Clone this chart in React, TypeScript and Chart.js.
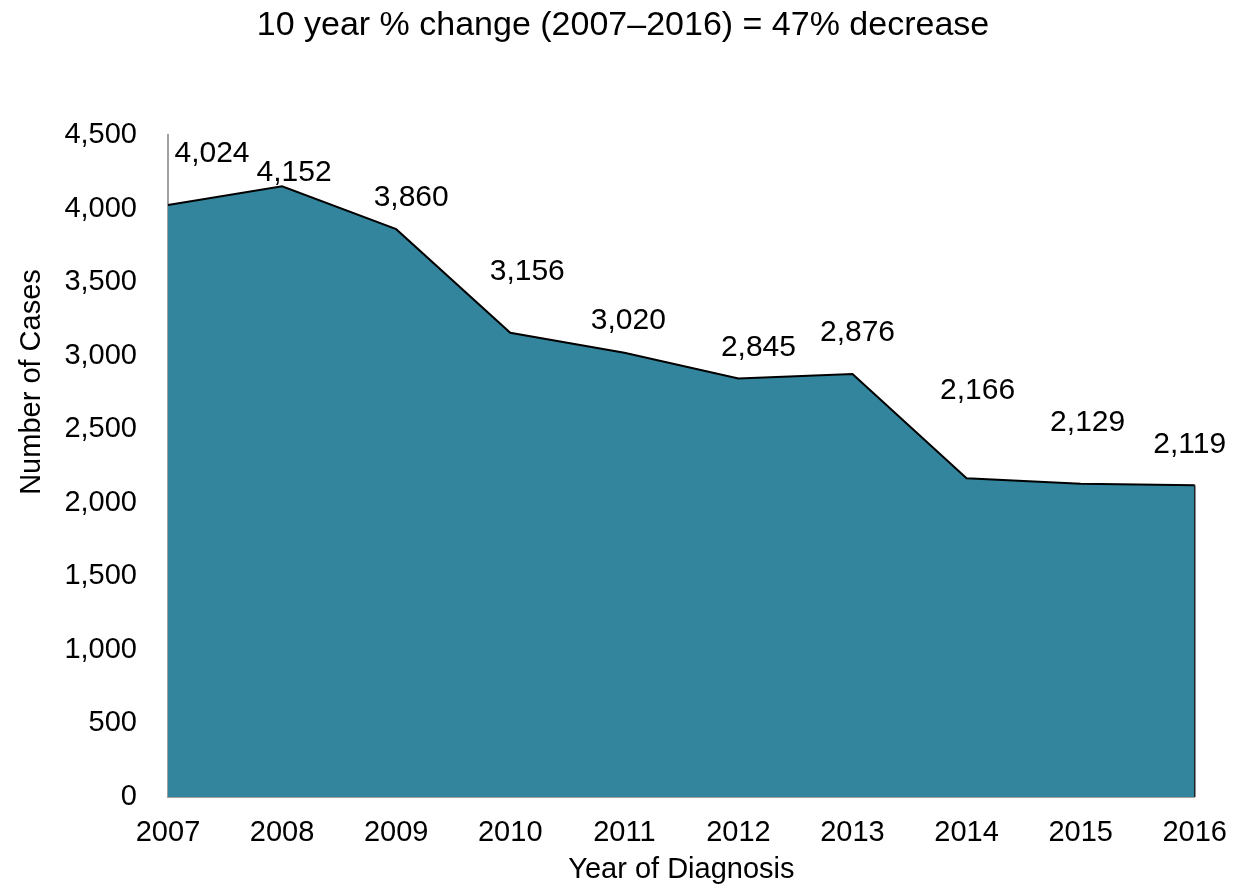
import React, { useEffect, useRef } from "react";
import { Chart, registerables } from "chart.js";

Chart.register(...registerables);

const years = ["2007", "2008", "2009", "2010", "2011", "2012", "2013", "2014", "2015", "2016"];
const cases = [4024, 4152, 3860, 3156, 3020, 2845, 2876, 2166, 2129, 2119];
const yTicks = [0, 500, 1000, 1500, 2000, 2500, 3000, 3500, 4000, 4500];
const chartTitle = "10 year % change (2007\u20132016) = 47% decrease";
const xTitle = "Year of Diagnosis";
const yTitle = "Number of Cases";
// label offsets (style): [dx, dy] of label centre from the point
const labelOffsets: [number, number][] = [
  [44, -51], [12, -13], [15, -31], [17, -61], [4, -32],
  [20, -31], [5, -41], [11, -88], [7, -61], [-5, -41],
];

const FONT = "'Liberation Sans', Arial, Helvetica, sans-serif";
const fmt = (v: number) => v.toLocaleString("en-US");

const textPlugin = {
  id: "customText",
  afterDatasetsDraw(chart: any) {
    const ctx = chart.ctx;
    const meta = chart.getDatasetMeta(0);
    const xs = chart.scales.x;
    const ys = chart.scales.y;
    ctx.save();
    // right edge line of area
    const last = meta.data[meta.data.length - 1];
    ctx.strokeStyle = "#222";
    ctx.lineWidth = 1.5;
    ctx.beginPath();
    ctx.moveTo(last.x, last.y);
    ctx.lineTo(last.x, ys.getPixelForValue(0));
    ctx.stroke();

    // data labels
    ctx.fillStyle = "#000";
    ctx.font = `30px ${FONT}`;
    ctx.textAlign = "center";
    ctx.textBaseline = "middle";
    meta.data.forEach((pt: any, i: number) => {
      const [dx, dy] = labelOffsets[i];
      ctx.fillText(fmt(cases[i]), pt.x + dx, pt.y + dy);
    });

    // title
    ctx.font = `34px ${FONT}`;
    ctx.fillText(chartTitle, chart.width / 2, 26);

    // x title
    ctx.font = `29px ${FONT}`;
    ctx.fillText(xTitle, (xs.left + xs.right) / 2, 870);

    // y title
    ctx.translate(32, 382);
    ctx.rotate(-Math.PI / 2);
    ctx.fillText(yTitle, 0, 0);
    ctx.restore();
  },
};

export default function App() {
  const ref = useRef<HTMLCanvasElement>(null);
  useEffect(() => {
    if (!ref.current) return;
    const chart = new Chart(ref.current, {
      type: "line",
      data: {
        labels: years,
        datasets: [
          {
            data: cases,
            fill: "origin",
            backgroundColor: "#32859D",
            borderColor: "#000",
            borderWidth: 2,
            pointRadius: 0,
            tension: 0,
          },
        ],
      },
      options: {
        responsive: false,
        animation: false,
        layout: { padding: { top: 135, right: 48, left: 0, bottom: 0 } },
        plugins: { legend: { display: false }, tooltip: { enabled: false }, title: { display: false } },
        scales: {
          x: {
            type: "category",
            offset: false,
            grid: { display: false, drawTicks: false },
            border: { display: true, color: "#A0A0A0", width: 2 },
            ticks: { color: "#000", font: { size: 29, family: FONT }, padding: 19, maxRotation: 0, autoSkip: false },
            afterFit: (s: any) => { s.height = 90; },
          },
          y: {
            min: 0,
            max: 4500,
            afterBuildTicks: (s: any) => { s.ticks = yTicks.map((v) => ({ value: v })); },
            grid: { display: false, drawTicks: false },
            border: { display: true, color: "#A0A0A0", width: 2 },
            ticks: { color: "#000", font: { size: 29, family: FONT }, padding: 31, callback: (v: any) => fmt(Number(v)) },
            afterFit: (s: any) => { s.width = 168; },
          },
        },
      },
      plugins: [textPlugin],
    });
    return () => chart.destroy();
  }, []);
  return (
    <div style={{ position: "absolute", left: 0, top: 0, width: 1246, height: 887, background: "#fff" }}>
      <canvas ref={ref} width={1246} height={887} style={{ width: 1246, height: 887 }} />
    </div>
  );
}
